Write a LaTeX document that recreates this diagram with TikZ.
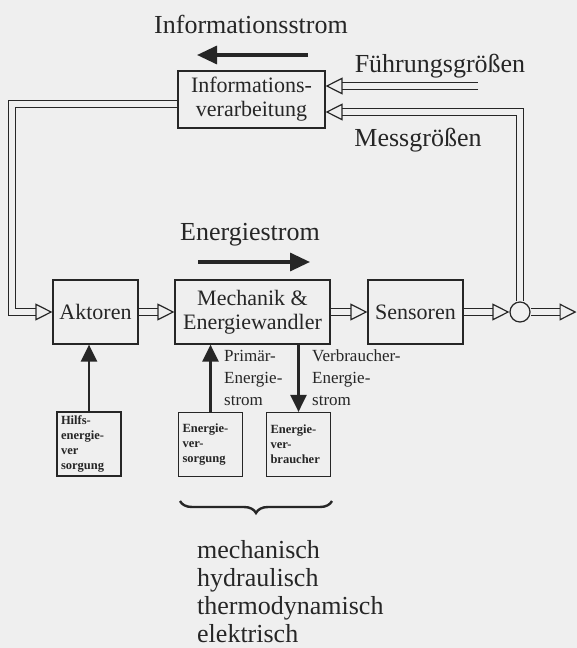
\documentclass[tikz,border=0pt]{standalone}
\usepackage{fontspec}
\setmainfont{Liberation Serif}
\usetikzlibrary{arrows.meta,decorations.pathreplacing}
\definecolor{ink}{HTML}{262626}
\definecolor{paper}{HTML}{EFEFEF}
\tikzset{
  box/.style={draw=ink, line width=1.2pt, inner sep=0pt, align=center, text=ink,
              font=\fontsize{22}{24}\selectfont},
  smallbox/.style={draw=ink, line width=1.2pt, inner sep=0pt, align=left, text=ink,
              minimum width=64pt, minimum height=64pt, text width=56pt,
              font=\fontsize{12.5}{15}\selectfont\bfseries},
  title/.style={text=ink, inner sep=0pt, font=\fontsize{26}{28}\selectfont},
  midlabel/.style={text=ink, inner sep=0pt, align=left, font=\fontsize{17}{22}\selectfont},
  dbl/.style={draw=ink, double=paper, double distance=5.5pt, line width=1.2pt,
              -{Triangle[open, length=17pt, width=17pt, line width=1.2pt]}},
  fatarrow/.style={draw=ink, line width=3.3pt, -{Triangle[length=20pt, width=18pt]}},
  feed/.style={draw=ink, line width=2.7pt, -{Triangle[length=17pt, width=16pt]}},
}
\begin{document}
\begin{tikzpicture}[x=1pt, y=-1pt]
\fill[paper] (0,0) rectangle (577,648);
\useasboundingbox (0,0) rectangle (577,648);

% titles
\node[title] (tinfo) at (251,24) {Informationsstrom};
\node[title] (tfuehr) at (440,66) {Führungsgrößen};
\node[title] (tmess) at (418,140) {Messgrößen};
\node[title] (tenergie) at (250,235) {Energiestrom};

% flow arrows
\coordinate (ia1) at (308,55); \coordinate (ia2) at (197,55);
\draw[fatarrow] (ia1) -- (ia2);
\coordinate (ea1) at (198,262); \coordinate (ea2) at (310,262);
\draw[fatarrow] (ea1) -- (ea2);

% boxes
\node[box, minimum width=147pt, minimum height=57pt] (info) at (251.5,99.5) {Informations-\\verarbeitung};
\node[box, minimum width=85pt, minimum height=64pt] (akt) at (95.5,312) {Aktoren};
\node[box, minimum width=155pt, minimum height=64pt] (mech) at (252.5,312) {Mechanik \&\\Energiewandler};
\node[box, minimum width=95pt, minimum height=64pt] (sen) at (415.5,312) {Sensoren};
\node[draw=ink, line width=1.2pt, circle, minimum size=20pt, inner sep=0pt] (circ) at (520,312) {};
\coordinate (out) at (576.5,312);

\node[smallbox] (hilf) at (89,444) {Hilfs-\\energie-\\ver\\sorgung};
\node[smallbox] (ev) at (210.5,444.5) {Energie-\\ver-\\sorgung};
\node[smallbox] (evb) at (298.5,444.5) {Energie-\\ver-\\braucher};

% double-line connectors
\draw[dbl] (akt.east) -- (mech.west);
\draw[dbl] (mech.east) -- (sen.west);
\draw[dbl] (sen.east) -- (circ.west);
\draw[dbl] (circ.east) -- (out);
\coordinate (fin) at (478,86);
\draw[dbl] (fin) -- (fin -| info.east);
\coordinate (mc) at (520,112);
\draw[dbl] (circ.north) -- (mc) -- (mc -| info.east);
\coordinate (lc) at (12,104);
\draw[dbl] (lc -| info.west) -- (lc) |- (akt.west);

% energy feeds
\draw[feed] (hilf.north) -- (hilf.north |- akt.south);
\draw[feed] (ev.north) -- (ev.north |- mech.south);
\draw[feed] (mech.south -| evb.north) -- (evb.north);

\node[midlabel, anchor=west] (prim) at (224,378) {Primär-\\Energie-\\strom};
\node[midlabel, anchor=west] (verb) at (312,378) {Verbraucher-\\Energie-\\strom};

% brace
\coordinate (b1) at (180,501); \coordinate (b2) at (332,501);
\draw[ink, line width=2.4pt, decorate, decoration={brace, mirror, amplitude=12pt}] (b1) -- (b2);

\node[title, anchor=west, align=left] (kinds) at (197,592) {mechanisch\\hydraulisch\\thermodynamisch\\elektrisch};
\end{tikzpicture}
\end{document}
